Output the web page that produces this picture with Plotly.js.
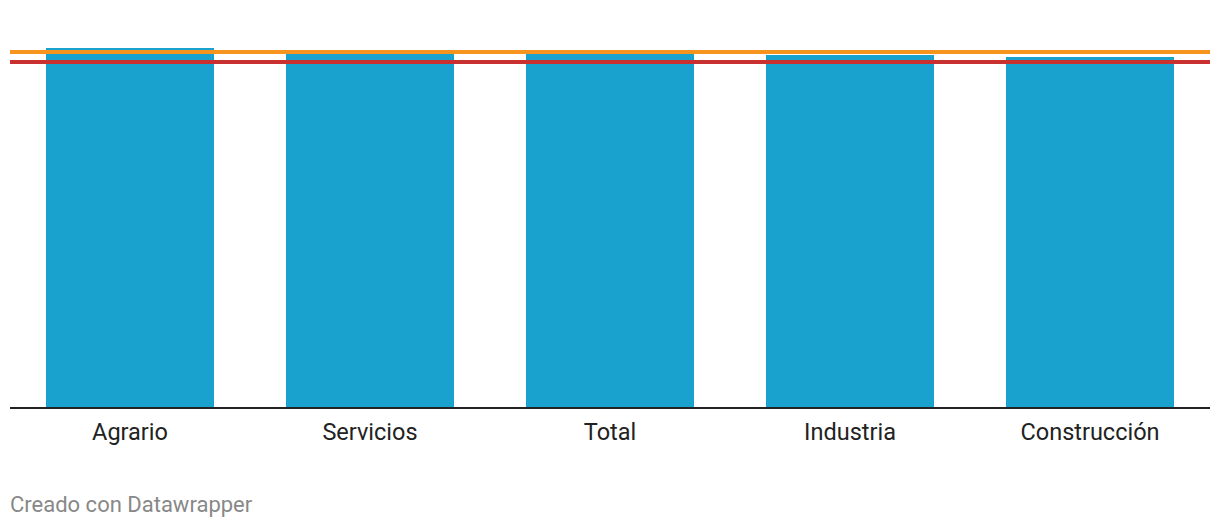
<!DOCTYPE html>
<html>
<head>
<meta charset="utf-8">
<script src="https://cdn.plot.ly/plotly-3.0.1.min.js"></script>
<style>
html,body{margin:0;padding:0;background:#fff;}
#chart{width:1220px;height:528px;}
</style>
</head>
<body>
<div id="chart"></div>
<script>
const categories = ["Agrario", "Servicios", "Total", "Industria", "Construcción"];
const values = [35.9, 35.7, 35.5, 35.2, 35.0];
const orangeLineValue = 35.5;
const redLineValue = 34.5;
const footerText = "Creado con Datawrapper";

const trace = {
  type: "bar",
  x: categories,
  y: values,
  marker: {color: "#1aa2ce"},
  width: 0.7,
  hoverinfo: "x+y"
};

const layout = {
  width: 1220,
  height: 528,
  margin: {l: 10, r: 10, t: 7, b: 121},
  paper_bgcolor: "#fff",
  plot_bgcolor: "#fff",
  showlegend: false,
  font: {family: "Roboto, sans-serif", color: "#222"},
  xaxis: {
    type: "category",
    showline: true,
    linecolor: "#222",
    linewidth: 2,
    ticks: "",
    showgrid: false,
    zeroline: false,
    tickfont: {size: 23.5, color: "#222", family: "Roboto, sans-serif"},
    ticklabelstandoff: 3,
    range: [-0.5, categories.length - 0.5]
  },
  yaxis: {
    range: [0, 40],
    showgrid: false,
    zeroline: false,
    showticklabels: false,
    ticks: ""
  },
  shapes: [
    {type: "line", xref: "paper", x0: 0, x1: 1, yref: "y", y0: orangeLineValue, y1: orangeLineValue,
     line: {color: "#f7941d", width: 4}},
    {type: "line", xref: "paper", x0: 0, x1: 1, yref: "y", y0: redLineValue, y1: redLineValue,
     line: {color: "#c93030", width: 4}}
  ],
  annotations: [
    {text: footerText, xref: "paper", yref: "paper", x: 0, xanchor: "left", y: 0, yanchor: "middle",
     xshift: -2, yshift: -97, showarrow: false, font: {size: 22, color: "#888", family: "Roboto, sans-serif"}}
  ]
};

Plotly.newPlot("chart", [trace], layout, {displayModeBar: false, staticPlot: true});
</script>
</body>
</html>
